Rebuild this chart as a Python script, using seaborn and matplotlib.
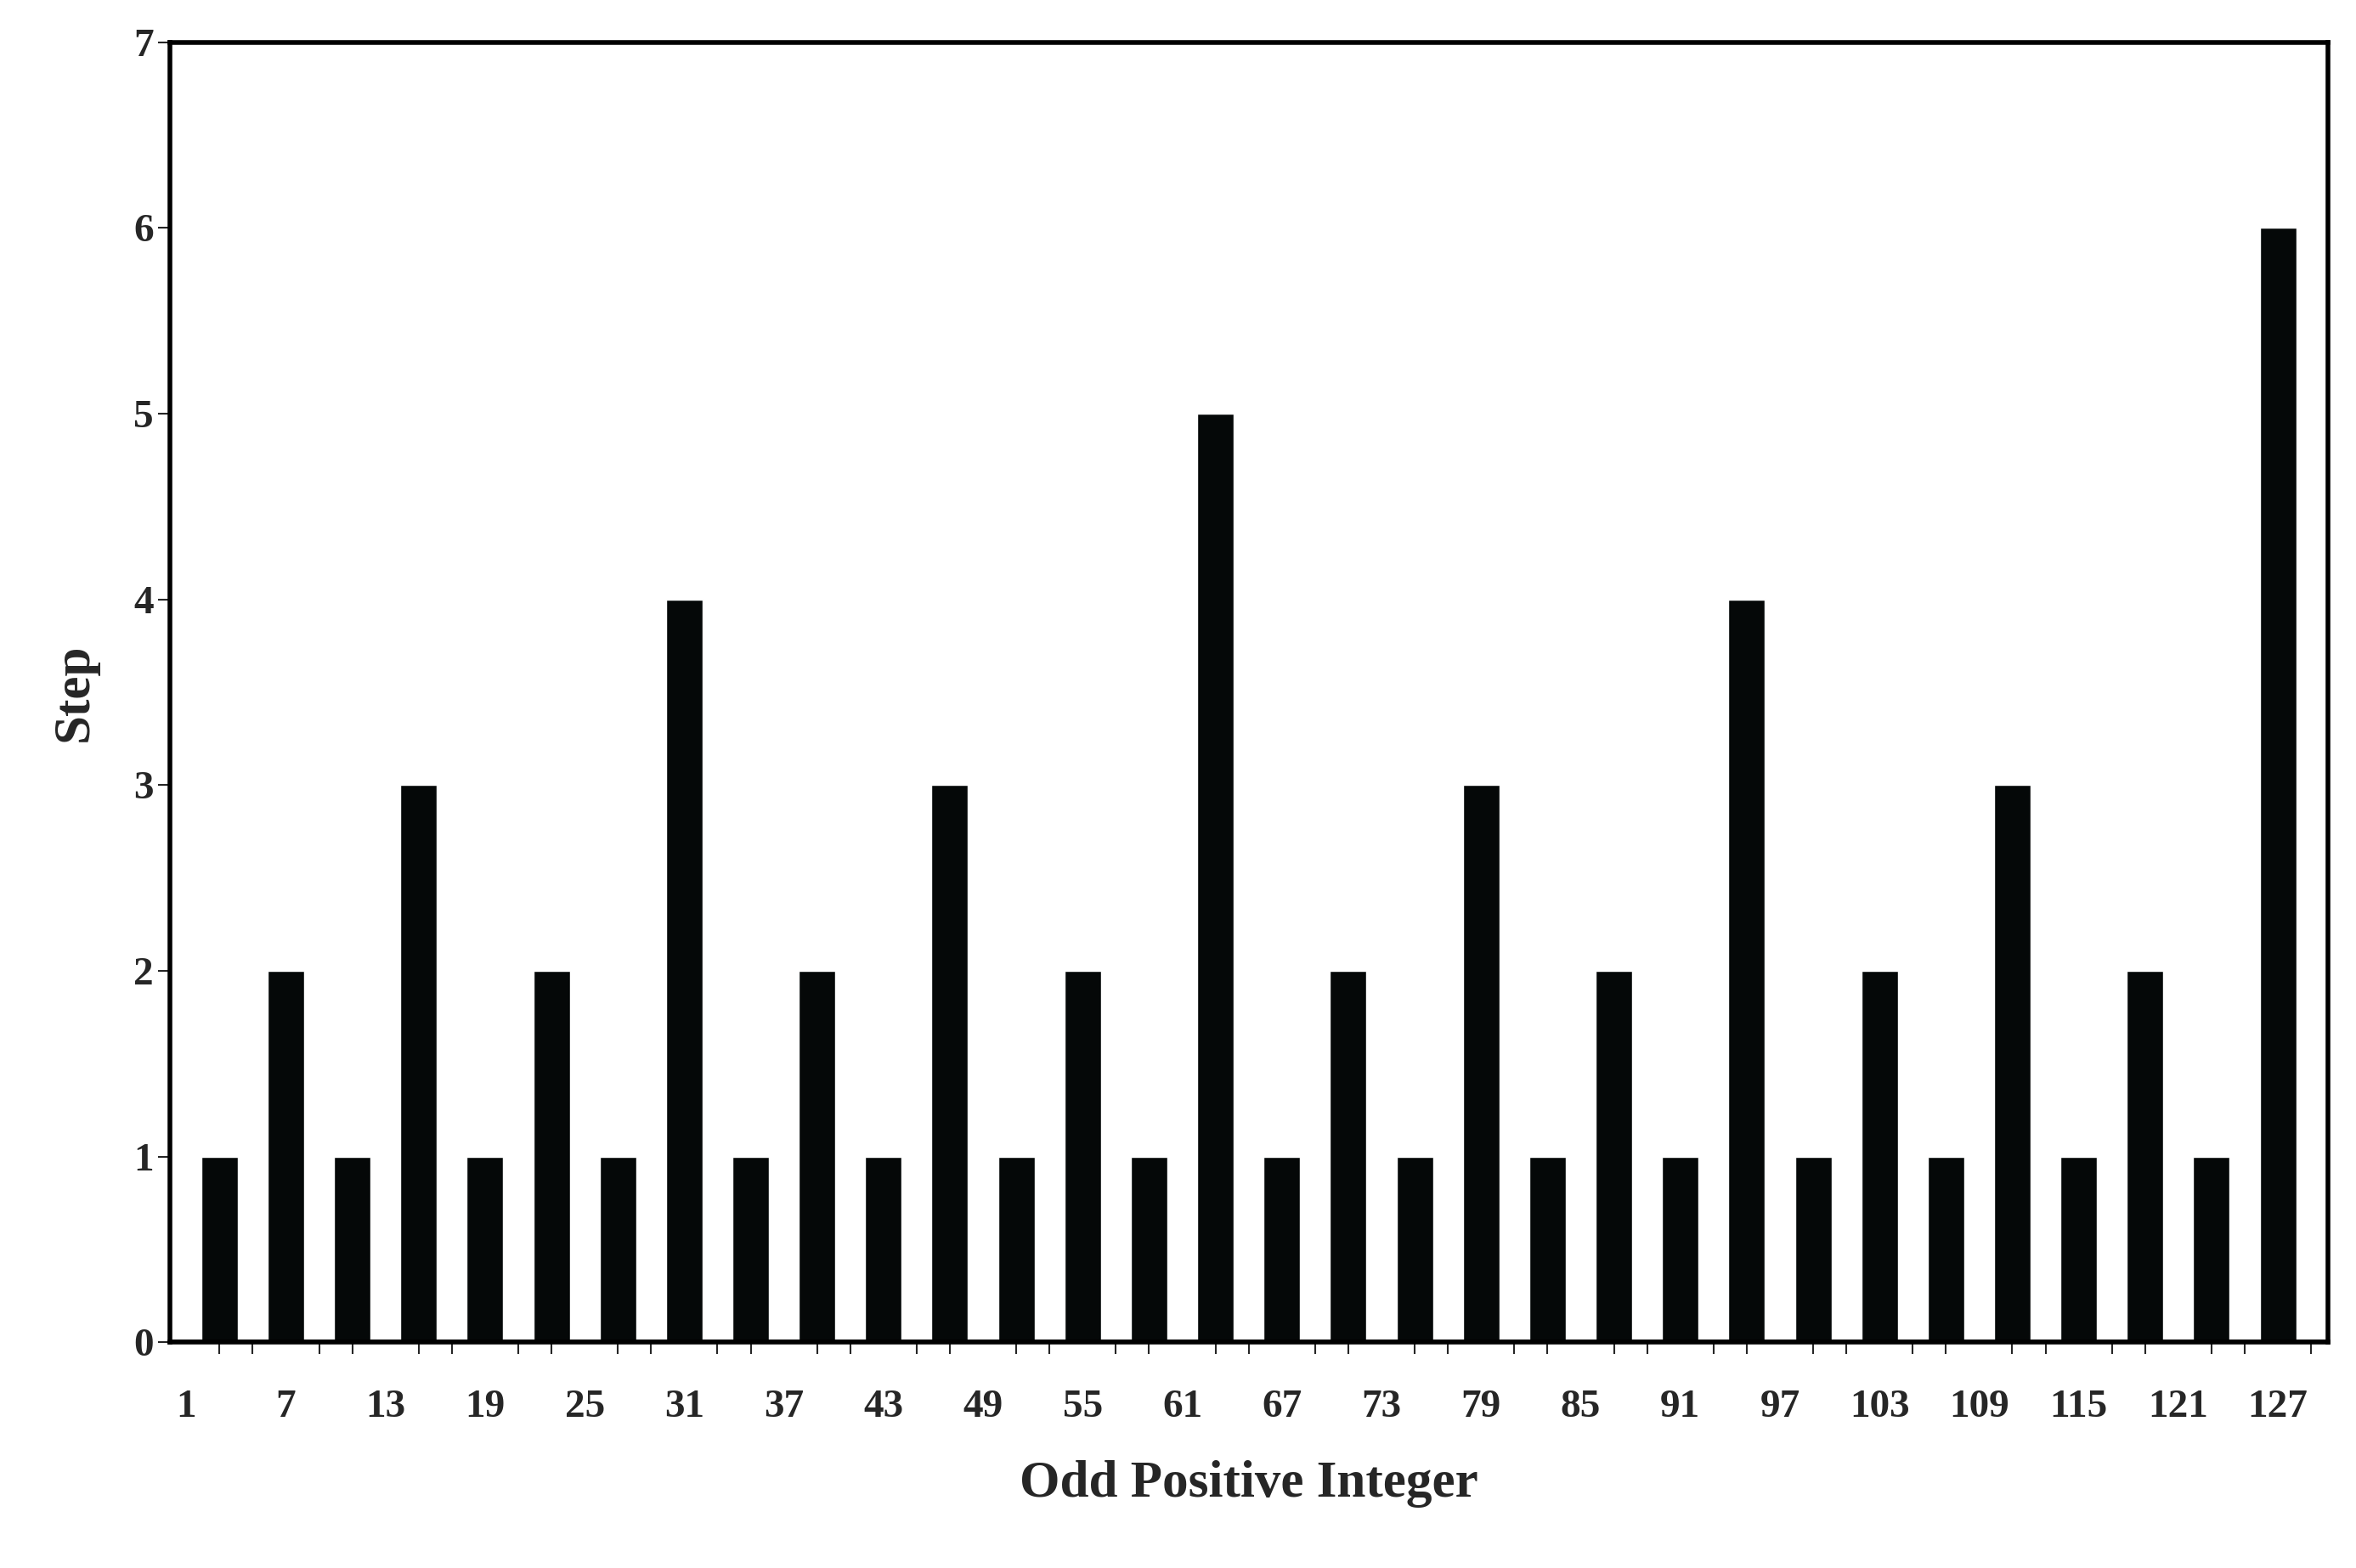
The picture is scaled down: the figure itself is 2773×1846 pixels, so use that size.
import numpy as np
import pandas as pd
import seaborn as sns
import matplotlib.pyplot as plt

# odd positive integers 1..127 and their step values
odd_numbers = list(range(1, 128, 2))
steps = [0, 1, 0, 2, 0, 1, 0, 3, 0, 1, 0, 2, 0, 1, 0, 4,
         0, 1, 0, 2, 0, 1, 0, 3, 0, 1, 0, 2, 0, 1, 0, 5,
         0, 1, 0, 2, 0, 1, 0, 3, 0, 1, 0, 2, 0, 1, 0, 4,
         0, 1, 0, 2, 0, 1, 0, 3, 0, 1, 0, 2, 0, 1, 0, 6]
tick_labels = [str(n) for n in odd_numbers[::3]]

df = pd.DataFrame({"n": [str(v) for v in odd_numbers], "step": steps})

sns.set_theme(style="white")
plt.rcParams["font.family"] = ["Liberation Serif", "DejaVu Serif"]
plt.rcParams["font.weight"] = "bold"

fig = plt.figure(figsize=(27.73, 18.46), dpi=100)
ax = fig.add_axes([0.072, 0.144, 0.916, 0.829])

sns.barplot(data=df, x="n", y="step", color="#050808", width=1.1,
            saturation=1, ax=ax)

ax.set_xlim(-0.5, 64.5)
ax.set_ylim(0, 7)
ax.set_xticks(range(0, 64, 3))
ax.set_xticklabels(tick_labels, fontsize=34, fontweight="bold")
ax.set_xticks(np.arange(0, 65), minor=True)
ax.tick_params(axis="x", which="major", length=0, pad=40)
ax.tick_params(axis="x", which="minor", length=10, width=1.5, direction="out", bottom=True)
ax.set_yticks(range(8))
ax.set_yticklabels([str(i) for i in range(8)], fontsize=34, fontweight="bold")
ax.tick_params(axis="y", length=10, width=1.5, direction="out", left=True)

ax.axhline(0, color="black", lw=5)
for s in ax.spines.values():
    s.set_linewidth(4)
    s.set_color("black")

ax.set_xlabel("Odd Positive Integer", fontsize=44, fontweight="bold", labelpad=30)
ax.set_ylabel("Step", fontsize=44, fontweight="bold", labelpad=30)

fig.savefig("out.png", dpi=100)
